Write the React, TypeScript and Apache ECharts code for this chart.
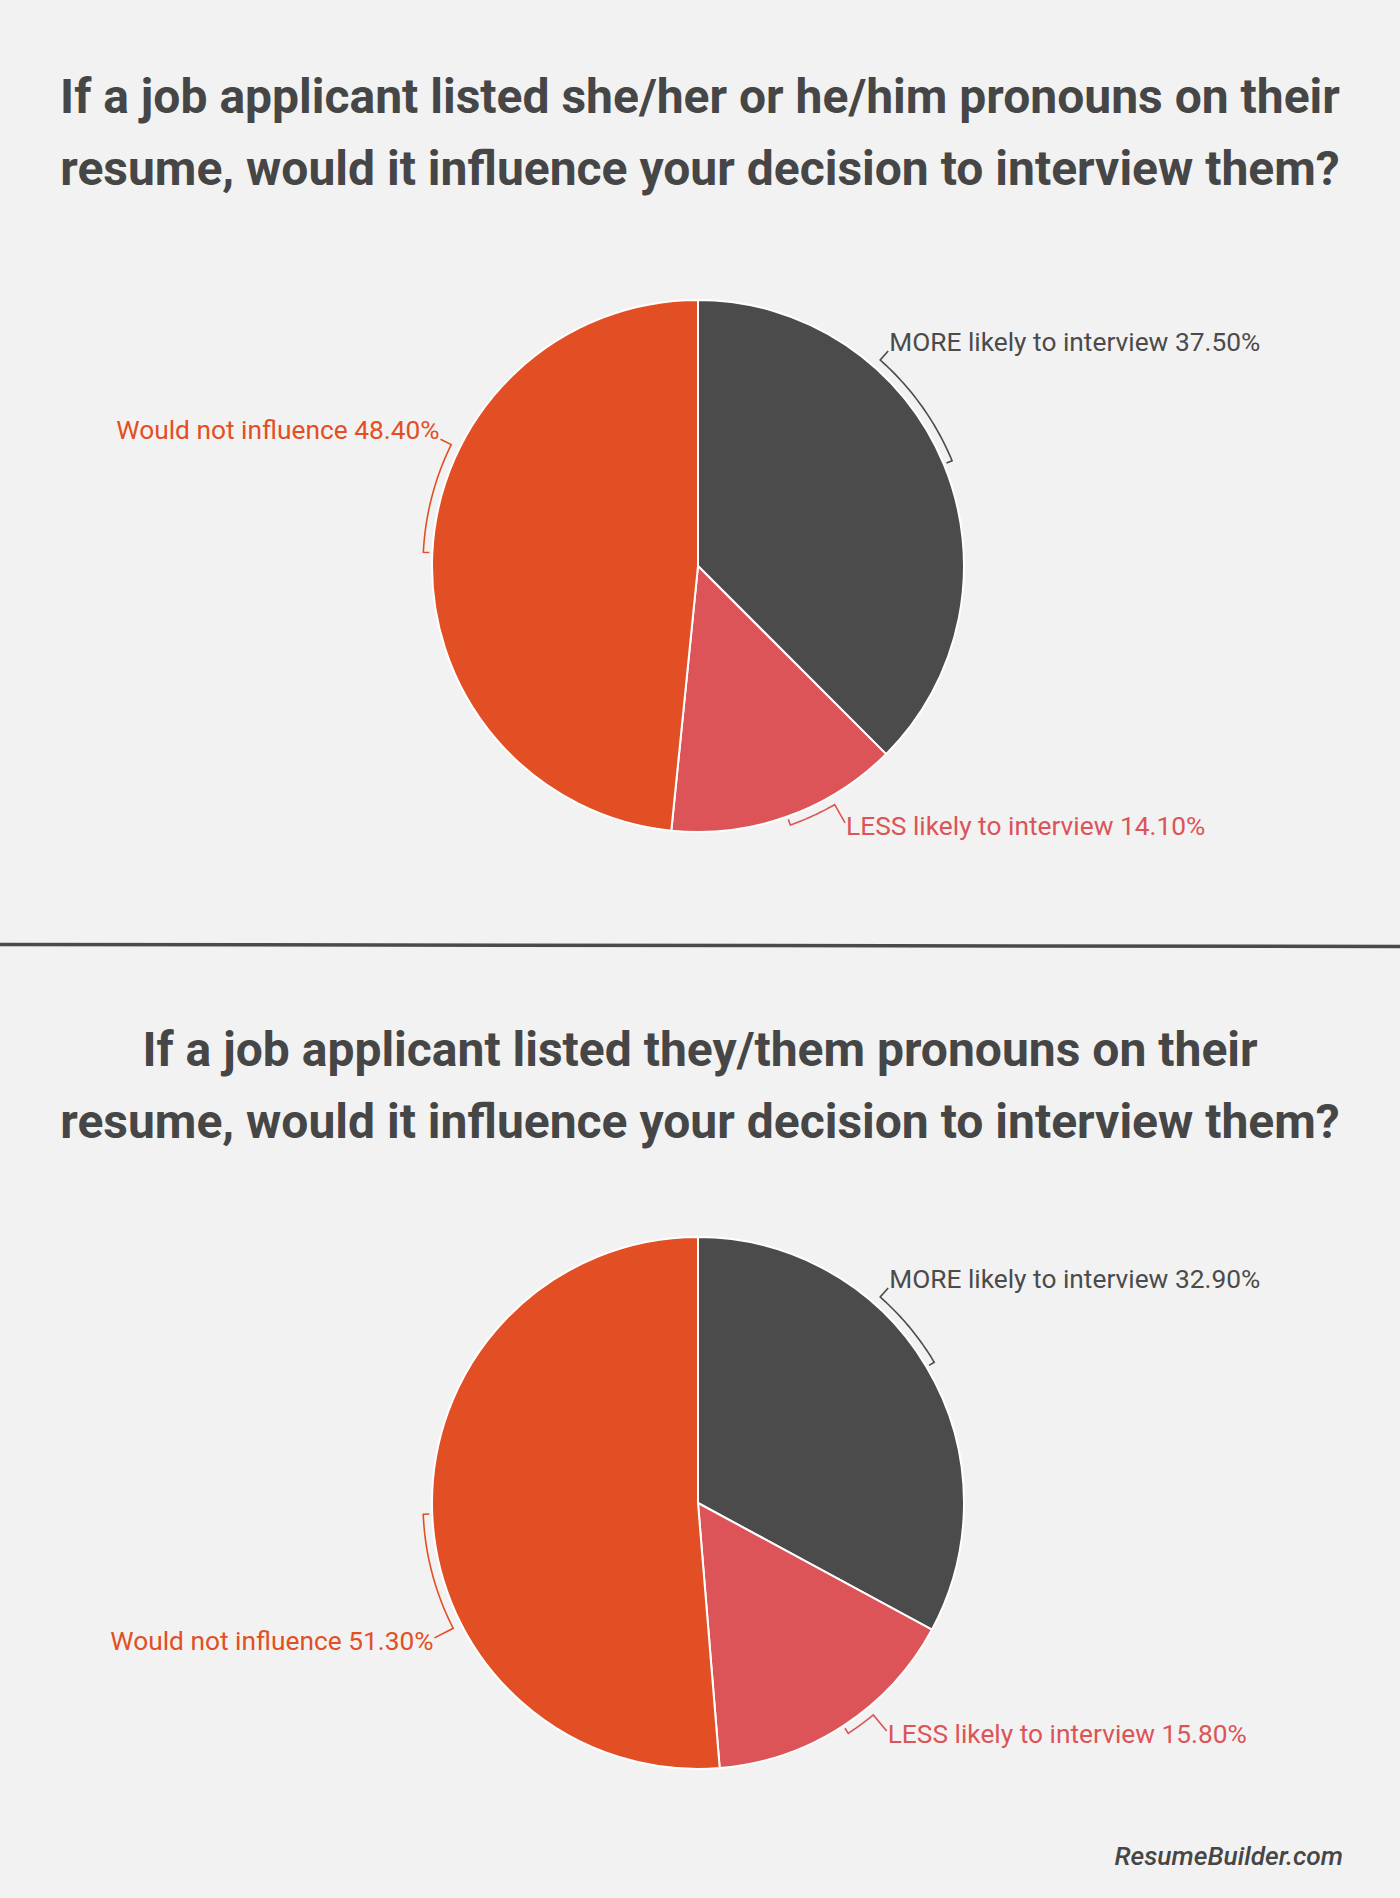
import { useEffect, useRef } from "react";
import * as echarts from "echarts";

const categories = ["MORE likely to interview", "LESS likely to interview", "Would not influence"];
const binaryValues = [37.5, 14.1, 48.4];
const theyValues = [32.9, 15.8, 51.3];
const titles = [
  "If a job applicant listed she/her or he/him pronouns on their\nresume, would it influence your decision to interview them?",
  "If a job applicant listed they/them pronouns on their\nresume, would it influence your decision to interview them?",
];
const source = "ResumeBuilder.com";

const sliceColors = ["#4b4b4b", "#dc5457", "#e34f24"];
const textColor = "#464646";
// where each callout ends, degrees clockwise from 12 o'clock
const labelAngles = [
  [41.5, 150.2, 296.2],
  [41.5, 140.4, 242.9],
];

const W = 1400;
const H = 1898;
const RADIUS = 266;
const BRACKET_R = RADIUS + 9;

function calloutSeries(values: number[], angles: number[], cx: number, cy: number) {
  const total = values.reduce((a, b) => a + b, 0);
  const starts: number[] = [];
  let acc = 0;
  values.forEach(v => { starts.push((acc / total) * 360); acc += v; });
  const pt = (deg: number, r: number) => {
    const a = (deg * Math.PI) / 180;
    return [cx + r * Math.sin(a), cy - r * Math.cos(a)];
  };
  return {
    type: "custom",
    coordinateSystem: "none",
    silent: true,
    data: values.map((v, i) => [v, i]),
    renderItem: (params: any) => {
      const i = params.dataIndex;
      const mid = starts[i] + (values[i] / total) * 180;
      const la = angles[i];
      const pts = [pt(mid, BRACKET_R - 6)];
      const steps = 30;
      for (let k = 0; k <= steps; k++) pts.push(pt(mid + ((la - mid) * k) / steps, BRACKET_R));
      const upper = Math.cos((la * Math.PI) / 180) > 0;
      const right = Math.sin((la * Math.PI) / 180) > 0;
      const end = pt(la, BRACKET_R + (upper ? 12 : 21));
      pts.push(end);
      const color = sliceColors[i];
      return {
        type: "group",
        children: [
          { type: "polyline", shape: { points: pts }, style: { stroke: color, lineWidth: 1.6, fill: "none" } },
          {
            type: "text",
            style: {
              text: `${categories[i]} ${values[i].toFixed(2)}%`,
              x: end[0] + (right ? 1 : -1),
              y: end[1] + (upper ? -9 : 3),
              align: right ? "left" : "right",
              verticalAlign: "middle",
              fill: color,
              fontSize: 26.3,
              fontFamily: "Roboto",
            },
          },
        ],
      };
    },
  };
}

function pieSeries(values: number[], cy: number) {
  return {
    type: "pie",
    center: [698, cy],
    radius: RADIUS,
    startAngle: 90,
    clockwise: true,
    silent: true,
    label: { show: false },
    labelLine: { show: false },
    itemStyle: { borderColor: "#ffffff", borderWidth: 2 },
    data: values.map((v, i) => ({ name: categories[i], value: v, itemStyle: { color: sliceColors[i] } })),
  };
}

export default function App() {
  const containerRef = useRef<HTMLDivElement>(null);

  useEffect(() => {
    document.body.style.margin = "0";
    document.body.style.background = "#f2f2f2";
    if (!containerRef.current) return;
    const chart = echarts.init(containerRef.current, null, { renderer: "svg" });
    const titleStyle = { fontSize: 48, fontWeight: "bold", lineHeight: 72, color: textColor, fontFamily: "Roboto" };

    chart.setOption({
      backgroundColor: "#f2f2f2",
      animation: false,
      title: [
        { text: titles[0], left: "center", top: 55, textStyle: titleStyle },
        { text: titles[1], left: "center", top: 1008, textStyle: titleStyle },
      ],
      graphic: [
        { type: "line", shape: { x1: 0, y1: 944.5, x2: W, y2: 946.5 }, style: { stroke: "#4a4a4a", lineWidth: 3.5 } },
        {
          type: "text",
          x: 1343,
          y: 1856,
          style: {
            text: source,
            align: "right",
            verticalAlign: "middle",
            fill: textColor,
            fontSize: 26.3,
            fontStyle: "italic",
            fontWeight: 500,
            fontFamily: "Roboto",
          },
        },
      ],
      series: [
        pieSeries(binaryValues, 566),
        calloutSeries(binaryValues, labelAngles[0], 698, 566),
        pieSeries(theyValues, 1503),
        calloutSeries(theyValues, labelAngles[1], 698, 1503),
      ],
    });
    return () => chart.dispose();
  }, []);

  return <div ref={containerRef} style={{ width: W, height: H }} />;
}
